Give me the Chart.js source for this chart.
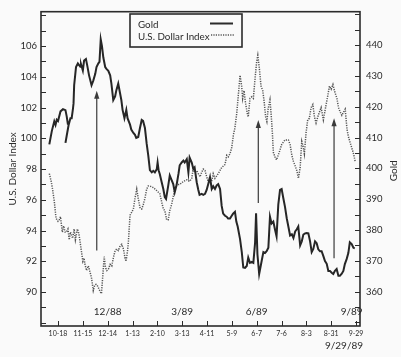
<!DOCTYPE html>
<html>
<head>
<meta charset="utf-8">
<script src="https://cdn.jsdelivr.net/npm/chart.js@4.4.0/dist/chart.umd.min.js"></script>
<style>
  html, body { margin: 0; padding: 0; background: #fafafa; }
  #wrap { width: 401px; height: 357px; }
</style>
</head>
<body>
<div id="wrap"><canvas id="goldChart" width="401" height="357"></canvas></div>
<script>
// trading-day index from 9/29/88 (0) to 9/29/89 (~253)
const goldDays = [
  6, 8, 10, 11, 12, 13, 15, 17, 19, 20,
  21, 20, 19, 20, 21.5, 23, 24, 25, 25.5, 26,
  27.5, 29, 31, 31.5, 33, 34, 35.5, 36.6, 38, 40,
  41.4, 43, 44, 45.5, 46.4, 47.4, 48.4, 49.5, 51, 52,
  53.5, 55, 56, 57.5, 59, 60, 61.5, 63, 64, 65,
  66.5, 68, 69, 71, 72, 73.7, 75, 76, 77.6, 79,
  80.4, 81.5, 83, 84.4, 85.7, 87, 88.5, 89.7, 91, 92.5,
  93.2, 94, 95, 96.5, 97.8, 99, 100, 101.8, 103, 104.5,
  105.8, 107, 108.5, 110, 111, 112.6, 114, 115, 116.7, 118,
  119, 120.7, 122, 123, 124.7, 126, 127, 128.7, 130, 131.4,
  132.7, 134, 135.4, 136.8, 138, 139.4, 140.8, 142, 143.5, 144.8,
  146, 147.5, 148.8, 150, 151.5, 152.9, 154, 155.5, 156.6, 157.7,
  159.6, 161, 162.2, 163.6, 165, 166.2, 167.6, 169, 170.3, 171.7,
  172.5, 173.6, 175, 177, 178.4, 179.7, 181, 182.4, 183.7, 185,
  186.4, 187.7, 189, 190.4, 191.8, 193.1, 194.5, 195.8, 197.2, 198.5,
  199.9, 201.3, 202.6, 204, 205.3, 206.5, 208, 209.3, 210.6, 212,
  213.3, 214.6, 216, 217.3, 218.6, 220, 221.3, 222.6, 224, 225.3,
  226.7, 228, 229.4, 230.7, 232, 233.4, 234.7, 236, 237.4, 238.8,
  240, 241.5, 242.8, 244, 245.5, 246.8, 248, 249.5, 250.9, 252
];
const goldPrice = [
  407.8, 412.1, 415.3, 414.1, 415.8, 415.4, 418.5, 419.2, 418.9, 416.9,
  414.2, null, 408.3, 410.6, 414.0, 416.3, 416.3, 419.2, 421.1, 427.0,
  432.9, 434.1, 433.0, 433.9, 431.8, 435.0, 435.5, 433.3, 430.2, 427.0,
  428.5, 430.7, 432.9, 434.1, 434.6, 441.9, 439.7, 436.0, 432.9, 432.3,
  431.7, 430.2, 427.5, 422.2, 423.4, 425.4, 427.5, 424.3, 422.2, 419.0,
  416.3, 419.0, 416.3, 414.2, 412.6, 411.5, 410.9, 409.9, 410.2, 413.1,
  415.7, 415.4, 413.1, 408.0, 404.1, 399.4, 398.7, 399.2, 398.7, 399.7,
  401.9, 399.4, 398.1, 395.5, 393.3, 390.7, 390.1, 394.5, 397.7, 396.2,
  394.9, 392.3, 394.6, 398.2, 401.0, 401.9, 402.5, 401.9, 403.0, 398.7,
  403.5, 401.9, 399.8, 400.3, 395.5, 393.0, 391.4, 391.7, 391.4, 391.7,
  393.0, 394.9, 397.1, 393.3, 394.2, 393.3, 394.5, 394.9, 393.3, 387.8,
  385.3, 384.6, 384.3, 383.7, 383.7, 384.6, 385.3, 385.9, 382.7, 381.1,
  377.0, 372.8, 367.8, 367.7, 368.3, 371.0, 369.3, 369.6, 369.3, 375.8,
  385.4, 372.1, 365.7, 369.9, 372.8, 372.5, 373.1, 374.2, 384.3, 382.1,
  382.7, 380.2, 377.9, 388.2, 393.0, 393.3, 390.2, 387.5, 383.8, 381.1,
  378.2, 378.6, 377.4, 379.5, 380.2, 381.1, 375.0, 376.3, 378.5, 378.9,
  379.0, 378.9, 376.3, 372.8, 373.8, 376.3, 375.7, 373.7, 373.1, 373.1,
  371.5, 369.9, 369.0, 366.7, 366.7, 366.1, 365.7, 366.7, 367.3, 365.1,
  365.1, 365.8, 366.7, 368.9, 370.6, 372.5, 376.0, 375.4, 374.2, 374.0
];

const dollarDays = [
  6, 7.5, 8.6, 10, 11.4, 13, 14, 15, 16.5, 17.5,
  18.7, 19.7, 21, 22, 23, 24.8, 26, 27, 28.6, 29.8,
  31.4, 33, 34, 34.7, 36, 37.4, 38.8, 40, 41.4, 42.4,
  43.6, 44.8, 46, 47.2, 48, 50.2, 51.2, 52.3, 53.6, 55,
  56.3, 57.5, 59, 60.3, 61.6, 63, 64.3, 65.7, 67, 67.8,
  69, 69.7, 71, 72.4, 73.7, 75, 76.4, 77.6, 79, 80.4,
  81.7, 83, 84.4, 85.7, 87, 89.7, 92.5, 95, 96.4, 97.8,
  99, 100.5, 101.8, 103, 104.5, 105.8, 107, 108.5, 111, 114,
  116.7, 119, 120.7, 122, 123, 124.7, 126, 127.4, 128.7, 130,
  131.4, 132.7, 134, 135.4, 136.8, 138, 139.4, 142, 144.8, 147.5,
  148.9, 150.2, 151.5, 152.9, 154.2, 155.5, 156.9, 158.2, 159.6, 160.9,
  161.7, 162.8, 164, 165.5, 166.2, 167.6, 169, 170.3, 171.7, 173,
  173.9, 175.2, 176.5, 177.9, 179, 180.2, 181.2, 182.2, 183.7, 184.7,
  185.6, 186.4, 187.7, 189, 191.2, 193.1, 195.8, 198.5, 199.9, 201.3,
  202.6, 204, 205.3, 206.6, 208, 209.3, 210.6, 211.4, 212.8, 214.1,
  215.4, 216.8, 218.2, 219.5, 220.8, 222.2, 223.5, 224.9, 226.7, 228.7,
  230.3, 231.6, 233, 234.4, 235.6, 237.6, 238.9, 240.3, 241.6, 242.9,
  244.3, 245.7, 246.9, 249.1, 251, 252.3
];
const dollarIndex = [
  97.7, 97.2, 96.7, 95.9, 94.8, 94.6, 94.7, 94.9, 93.9, 94.3,
  93.9, 93.9, 94.1, 93.4, 93.9, 93.5, 94.1, 93.4, 94.1, 93.8,
  92.9, 92.0, 92.2, 91.8, 91.4, 91.7, 91.3, 90.9, 90.1, 90.4,
  90.5, 90.4, 90.2, 90.0, 89.9, 92.3, 91.6, 91.4, 91.5, 91.8,
  91.7, 92.2, 92.7, 92.8, 92.7, 93.0, 93.1, 92.8, 92.2, 92.0,
  92.7, 93.3, 95.0, 95.2, 95.4, 96.1, 96.7, 96.1, 95.5, 95.4,
  95.7, 96.1, 96.7, 96.9, 96.9, 96.8, 96.6, 96.4, 95.9, 95.4,
  95.3, 94.7, 94.7, 95.3, 95.7, 96.2, 96.7, 97.0, 97.0, 97.2,
  97.3, 97.2, 97.4, 98.1, 97.8, 97.9, 97.7, 97.5, 97.8, 98.0,
  97.9, 97.5, 97.2, 97.5, 97.2, 97.7, 97.4, 97.7, 98.1, 98.3,
  98.9, 98.8, 99.0, 99.4, 100.2, 100.7, 101.6, 102.8, 104.1, 103.4,
  102.6, 103.1, 102.3, 101.6, 101.4, 102.6, 102.7, 102.6, 103.9, 105.0,
  105.4, 104.5, 103.4, 103.1, 102.4, 101.4, 101.1, 101.9, 102.5, 101.5,
  100.4, 99.1, 98.8, 98.6, 99.1, 99.6, 99.9, 99.9, 99.6, 98.9,
  98.5, 98.2, 97.9, 97.4, 98.1, 99.8, 99.4, 99.0, 100.4, 101.2,
  101.3, 102.0, 102.2, 101.4, 101.0, 101.4, 101.7, 102.0, 101.2, 102.1,
  102.8, 103.4, 103.2, 103.5, 103.1, 102.6, 102.0, 101.7, 101.5, 101.7,
  101.9, 100.6, 100.1, 99.5, 99.0, 98.5
];

const tickDays = [13, 33, 53, 73, 93, 113, 133, 153, 173, 193, 213, 233, 253];
const tickLabels = ['10-18', '11-15', '12-14', '1-13', '2-10', '3-13', '4-11',
                    '5-9', '6-7', '7-6', '8-3', '8-31', '9-29'];
const periodLabels = ['12/88', '3/89', '6/89', '9/89'];
const periodDays = [53, 113, 173, 249.5];

// arrows: day, dollar-index value at foot, at tip
const arrowDays = [44.2, 174.3, 235.3];
const arrowFrom = [92.7, 95.8, 92.2];
const arrowTo = [103.1, 101.2, 101.3];

const FONT = 'Lato, "DejaVu Sans", sans-serif';
const INK = '#2b2b2b';

const paperMarks = {
  id: 'paperMarks',
  afterDatasetsDraw(chart) {
    const { ctx, chartArea: a, scales } = chart;
    const x = scales.x, y = scales.y, y1 = scales.y1;
    ctx.save();
    ctx.strokeStyle = INK;
    ctx.fillStyle = INK;

    // frame
    ctx.lineWidth = 1.6;
    ctx.strokeRect(a.left, a.top, a.right - a.left, a.bottom - a.top);

    // inward tick marks
    ctx.lineWidth = 1;
    ctx.beginPath();
    y.ticks.forEach(t => {
      const p = Math.round(y.getPixelForValue(t.value)) + 0.5;
      ctx.moveTo(a.left, p); ctx.lineTo(a.left + 5, p);
    });
    y1.ticks.forEach(t => {
      const p = Math.round(y1.getPixelForValue(t.value)) + 0.5;
      ctx.moveTo(a.right, p); ctx.lineTo(a.right - 5, p);
    });
    x.ticks.forEach(t => {
      const p = Math.round(x.getPixelForValue(t.value)) + 0.5;
      ctx.moveTo(p, a.bottom); ctx.lineTo(p, a.bottom - 5);
    });
    ctx.stroke();

    // arrows
    ctx.lineWidth = 1.2;
    ctx.strokeStyle = '#3a3a3a';
    ctx.fillStyle = '#3a3a3a';
    arrowDays.forEach((d, i) => {
      const px = x.getPixelForValue(d);
      const y0 = y.getPixelForValue(arrowFrom[i]);
      const yt = y.getPixelForValue(arrowTo[i]);
      ctx.beginPath();
      ctx.moveTo(px, y0); ctx.lineTo(px, yt + 6);
      ctx.stroke();
      ctx.beginPath();
      ctx.moveTo(px, yt); ctx.lineTo(px - 2.6, yt + 8); ctx.lineTo(px + 2.6, yt + 8);
      ctx.closePath();
      ctx.fill();
    });

    // period labels inside the plot
    ctx.fillStyle = INK;
    ctx.font = '10px ' + FONT;
    ctx.textBaseline = 'middle';
    periodLabels.forEach((s, i) => {
      ctx.textAlign = 'center';
      ctx.fillText(s, x.getPixelForValue(periodDays[i]), a.bottom - 14);
    });
    ctx.textAlign = 'right';
    ctx.fillText('9/29/89', a.right + 3, a.bottom + 20);

    // axis titles
    ctx.font = '10px ' + FONT;
    ctx.textAlign = 'center';
    const mid = (a.top + a.bottom) / 2;
    ctx.save();
    ctx.translate(13, mid);
    ctx.rotate(-Math.PI / 2);
    ctx.fillText('U.S. Dollar Index', 0, 0);
    ctx.restore();
    ctx.save();
    ctx.translate(394, mid + 2);
    ctx.rotate(-Math.PI / 2);
    ctx.fillText('Gold', 0, 0);
    ctx.restore();

    // legend box
    const lx = 130, ly = 14, lw = 112, lh = 33;
    ctx.fillStyle = '#fafafa';
    ctx.fillRect(lx, ly, lw, lh);
    ctx.lineWidth = 1.6;
    ctx.strokeStyle = INK;
    ctx.strokeRect(lx, ly, lw, lh);
    ctx.fillStyle = INK;
    ctx.textAlign = 'left';
    ctx.font = '9.8px ' + FONT;
    ctx.fillText('Gold', lx + 8, ly + 10.5);
    ctx.fillText('U.S. Dollar Index', lx + 8, ly + 23);
    ctx.lineWidth = 2;
    ctx.beginPath();
    ctx.moveTo(lx + 80, ly + 9.5); ctx.lineTo(lx + 103, ly + 9.5);
    ctx.stroke();
    ctx.lineWidth = 1.4;
    ctx.strokeStyle = '#555';
    ctx.setLineDash([1.2, 1.2]);
    ctx.beginPath();
    ctx.moveTo(lx + 81, ly + 21); ctx.lineTo(lx + 105, ly + 21);
    ctx.stroke();
    ctx.restore();
  }
};

function fixWidth(w) { return s => { s.width = w; }; }

new Chart(document.getElementById('goldChart').getContext('2d'), {
  type: 'line',
  data: {
    datasets: [{
      label: 'Gold',
      data: goldDays.map((d, i) => ({ x: d, y: goldPrice[i] })),
      yAxisID: 'y1',
      borderColor: '#262626',
      borderWidth: 2,
      pointRadius: 0,
      tension: 0,
      spanGaps: false
    }, {
      label: 'U.S. Dollar Index',
      data: dollarDays.map((d, i) => ({ x: d, y: dollarIndex[i] })),
      yAxisID: 'y',
      borderColor: '#555',
      borderWidth: 1.5,
      borderDash: [1.2, 1.2],
      pointRadius: 0,
      tension: 0
    }]
  },
  options: {
    responsive: false,
    animation: false,
    layout: { padding: { top: 7, left: 0, right: 0, bottom: 0 } },
    plugins: { legend: { display: false }, tooltip: { enabled: false } },
    scales: {
      x: {
        type: 'linear',
        min: -0.7, max: 256.2,
        grid: { display: false, drawTicks: false },
        border: { display: false },
        afterBuildTicks: s => { s.ticks = tickDays.map(v => ({ value: v })); },
        afterFit: s => { s.height = 31; },
        ticks: {
          padding: 4,
          maxRotation: 0,
          autoSkip: false,
          color: INK,
          font: { family: FONT, size: 7 },
          callback: v => tickLabels[tickDays.indexOf(v)]
        }
      },
      y: {
        position: 'left',
        min: 87.79, max: 108.24,
        grid: { display: false, drawTicks: false },
        border: { display: false },
        afterBuildTicks: s => {
          const t = [];
          for (let v = 88; v <= 108; v++) t.push({ value: v });
          s.ticks = t;
        },
        afterFit: fixWidth(41),
        ticks: {
          padding: 4,
          autoSkip: false,
          color: INK,
          font: { family: FONT, size: 9.5 },
          callback: v => (v % 2 === 0 && v >= 90 && v <= 106) ? v : ''
        }
      },
      y1: {
        position: 'right',
        min: 348.8, max: 450.88,
        grid: { display: false, drawTicks: false },
        border: { display: false },
        afterBuildTicks: s => {
          const t = [];
          for (let v = 350; v <= 450; v += 5) t.push({ value: v });
          s.ticks = t;
        },
        afterFit: fixWidth(41),
        ticks: {
          padding: 6,
          autoSkip: false,
          color: INK,
          font: { family: FONT, size: 9.5 },
          callback: v => (v % 10 === 0 && v >= 360 && v <= 440) ? v : ''
        }
      }
    }
  },
  plugins: [paperMarks]
});
</script>
</body>
</html>
